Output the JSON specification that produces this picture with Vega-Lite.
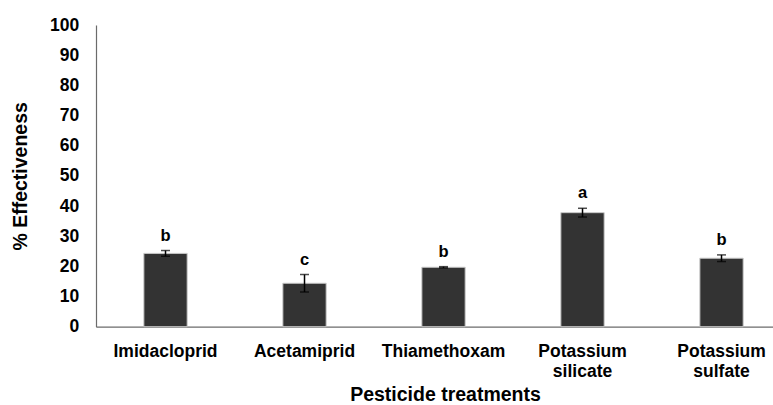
{
  "$schema": "https://vega.github.io/schema/vega-lite/v6.json",
  "autosize": "none",
  "width": 677,
  "height": 301.7,
  "padding": {"left": 96, "top": 25, "right": 0, "bottom": 78.3},
  "background": "white",
  "config": {"view": {"stroke": null}, "font": "Liberation Sans"},
  "data": {"values": [
    {"treatment": "Imidacloprid", "mean": 24.3, "low": 23.35, "high": 25.25, "group": "b"},
    {"treatment": "Acetamiprid", "mean": 14.4, "low": 11.5, "high": 17.3, "group": "c"},
    {"treatment": "Thiamethoxam", "mean": 19.7, "low": 19.5, "high": 19.9, "group": "b"},
    {"treatment": "Potassium silicate", "mean": 37.8, "low": 36.35, "high": 39.25, "group": "a"},
    {"treatment": "Potassium sulfate", "mean": 22.7, "low": 21.6, "high": 23.8, "group": "b"}
  ]},
  "encoding": {
    "x": {
      "field": "treatment", "type": "nominal", "sort": null,
      "scale": {"paddingInner": 0.6885, "paddingOuter": 0.2795, "align": 0.616, "round": false},
      "axis": {
        "title": "Pesticide treatments",
        "titleFont": "Liberation Sans", "titleFontSize": 19.5, "titleFontWeight": "bold", "titleColor": "black",
        "titleX": 349, "titleY": 74, "titleBaseline": "alphabetic", "titleAnchor": null,
        "labelAngle": 0, "labelFont": "Liberation Sans", "labelFontSize": 17.5, "labelFontWeight": "bold",
        "labelColor": "black", "labelExpr": "split(datum.label, ' ')", "labelLineHeight": 20,
        "labelPadding": 15.5, "ticks": false, "tickSize": 0,
        "domainColor": "#6b6b6b", "domainWidth": 1.2, "grid": false
      }
    }
  },
  "layer": [
    {
      "mark": {"type": "bar", "color": "#333333", "stroke": "#c8c8c8", "strokeWidth": 1},
      "encoding": {
        "y": {
          "field": "mean", "type": "quantitative",
          "scale": {"domain": [0, 100], "nice": false},
          "axis": {
            "title": "% Effectiveness",
            "titleFont": "Liberation Sans", "titleFontSize": 19.5, "titleFontWeight": "bold", "titleColor": "black",
            "titleX": -76, "titleBaseline": "middle",
            "values": [0, 10, 20, 30, 40, 50, 60, 70, 80, 90, 100], "labelOverlap": false, "tickCount": 11,
            "labelFont": "Liberation Sans", "labelFontSize": 17.5, "labelFontWeight": "bold", "labelColor": "black",
            "labelPadding": 17.3, "ticks": false, "tickSize": 0,
            "domainColor": "#6b6b6b", "domainWidth": 1.2, "grid": false
          }
        }
      }
    },
    {
      "mark": {"type": "rule", "color": "black", "strokeWidth": 1.5},
      "encoding": {
        "y": {"field": "low", "type": "quantitative", "axis": {
            "title": "% Effectiveness",
            "titleFont": "Liberation Sans", "titleFontSize": 19.5, "titleFontWeight": "bold", "titleColor": "black",
            "titleX": -76, "titleBaseline": "middle",
            "values": [0, 10, 20, 30, 40, 50, 60, 70, 80, 90, 100], "labelOverlap": false, "tickCount": 11,
            "labelFont": "Liberation Sans", "labelFontSize": 17.5, "labelFontWeight": "bold", "labelColor": "black",
            "labelPadding": 17.3, "ticks": false, "tickSize": 0,
            "domainColor": "#6b6b6b", "domainWidth": 1.2, "grid": false
          }},
        "y2": {"field": "high"}
      }
    },
    {
      "mark": {"type": "tick", "color": "black", "thickness": 1.5, "size": 9},
      "encoding": {"y": {"field": "low", "type": "quantitative", "axis": {
            "title": "% Effectiveness",
            "titleFont": "Liberation Sans", "titleFontSize": 19.5, "titleFontWeight": "bold", "titleColor": "black",
            "titleX": -76, "titleBaseline": "middle",
            "values": [0, 10, 20, 30, 40, 50, 60, 70, 80, 90, 100], "labelOverlap": false, "tickCount": 11,
            "labelFont": "Liberation Sans", "labelFontSize": 17.5, "labelFontWeight": "bold", "labelColor": "black",
            "labelPadding": 17.3, "ticks": false, "tickSize": 0,
            "domainColor": "#6b6b6b", "domainWidth": 1.2, "grid": false
          }}}
    },
    {
      "mark": {"type": "tick", "color": "black", "thickness": 1.5, "size": 9},
      "encoding": {"y": {"field": "high", "type": "quantitative", "axis": {
            "title": "% Effectiveness",
            "titleFont": "Liberation Sans", "titleFontSize": 19.5, "titleFontWeight": "bold", "titleColor": "black",
            "titleX": -76, "titleBaseline": "middle",
            "values": [0, 10, 20, 30, 40, 50, 60, 70, 80, 90, 100], "labelOverlap": false, "tickCount": 11,
            "labelFont": "Liberation Sans", "labelFontSize": 17.5, "labelFontWeight": "bold", "labelColor": "black",
            "labelPadding": 17.3, "ticks": false, "tickSize": 0,
            "domainColor": "#6b6b6b", "domainWidth": 1.2, "grid": false
          }}}
    },
    {
      "mark": {"type": "text", "font": "Liberation Sans", "fontSize": 16.5, "fontWeight": "bold", "color": "black", "baseline": "alphabetic", "dy": -10},
      "encoding": {"y": {"field": "high", "type": "quantitative", "axis": {
            "title": "% Effectiveness",
            "titleFont": "Liberation Sans", "titleFontSize": 19.5, "titleFontWeight": "bold", "titleColor": "black",
            "titleX": -76, "titleBaseline": "middle",
            "values": [0, 10, 20, 30, 40, 50, 60, 70, 80, 90, 100], "labelOverlap": false, "tickCount": 11,
            "labelFont": "Liberation Sans", "labelFontSize": 17.5, "labelFontWeight": "bold", "labelColor": "black",
            "labelPadding": 17.3, "ticks": false, "tickSize": 0,
            "domainColor": "#6b6b6b", "domainWidth": 1.2, "grid": false
          }}, "text": {"field": "group"}}
    }
  ]
}
